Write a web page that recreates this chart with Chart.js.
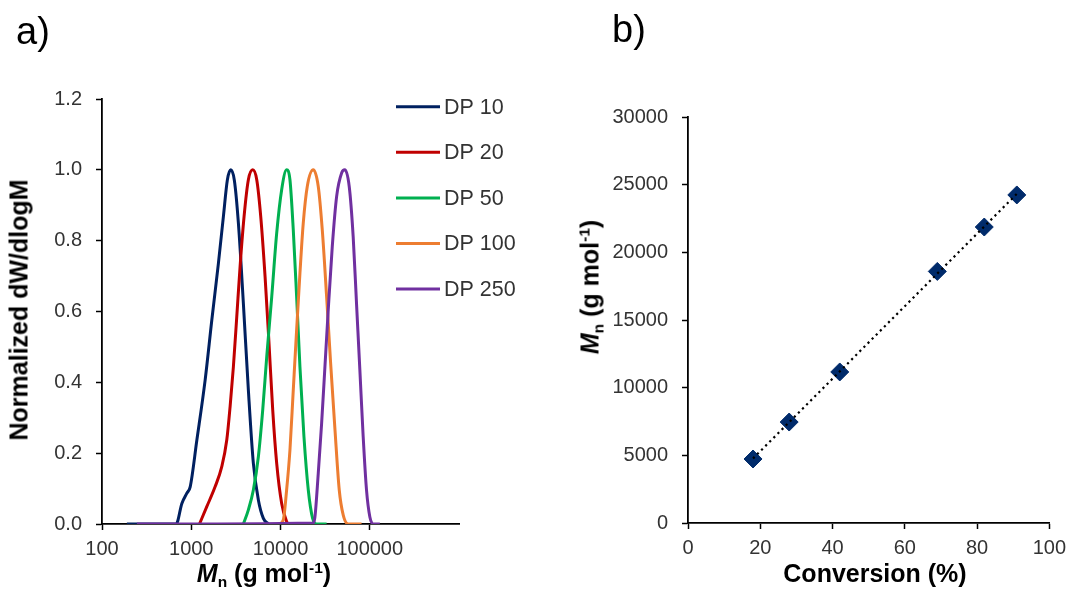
<!DOCTYPE html>
<html><head><meta charset="utf-8">
<script src="https://cdn.jsdelivr.net/npm/chart.js@4.4.1/dist/chart.umd.min.js"></script>
<style>
html,body{margin:0;padding:0;background:#fff;}
#wrap{position:relative;width:1073px;height:595px;overflow:hidden;font-family:"Liberation Sans",Arial,sans-serif;background:#fff;}
.cv{position:absolute;top:0;}
.lbl{position:absolute;white-space:nowrap;color:#000;line-height:1;}
.ttl{font-size:25px;font-weight:bold;transform:translate(-50%,-50%);}
.rot{transform:translate(-50%,-50%) rotate(-90deg);}
.panel{font-size:38px;}
sub,sup{font-size:0.62em;line-height:0;position:relative;vertical-align:baseline;}
sub{top:0.32em;} sup{top:-0.55em;}
</style></head>
<body><div id="wrap">
<canvas id="ca" class="cv" width="540" height="595" style="left:0"></canvas>
<canvas id="cb" class="cv" width="533" height="595" style="left:540px"></canvas>
<div class="lbl panel" style="left:16px;top:12px">a)</div>
<div class="lbl panel" style="left:612px;top:10px">b)</div>
<div class="lbl ttl rot" style="left:19px;top:310px">Normalized dW/dlogM</div>
<div class="lbl ttl" style="left:264px;top:573px"><i>M</i><sub>n</sub> (g mol<sup>-1</sup>)</div>
<div class="lbl ttl" style="left:875px;top:573px">Conversion (%)</div>
<div class="lbl ttl rot" style="left:590px;top:287px"><i>M</i><sub>n</sub> (g mol<sup>-1</sup>)</div>
</div>
<script>
// ---------- Panel a: GPC traces ----------
const seriesLabels = ['DP 10', 'DP 20', 'DP 50', 'DP 100', 'DP 250'];
const seriesColors = ['#002060', '#C00000', '#00B050', '#ED7D31', '#7030A0'];

const dp10M = [190, 678, 785, 893, 973, 1156, 1432, 1700, 2015, 2291, 2541, 2773, 3042, 3373, 3837, 4365, 4966, 5649, 6427, 7311];
const dp10W = [0, 0, 0.058, 0.087, 0.105, 0.237, 0.407, 0.576, 0.736, 0.868, 0.972, 1.0, 0.97, 0.85, 0.623, 0.378, 0.171, 0.068, 0.016, 0];

const dp20M = [1236, 1493, 1849, 2198, 2500, 2723, 2966, 3235, 3525, 3906, 4365, 4887, 5417, 6006, 6714, 7435, 8180, 9065, 10305, 11710, 12220];
const dp20W = [0, 0.049, 0.105, 0.162, 0.237, 0.331, 0.444, 0.585, 0.727, 0.868, 0.972, 1.0, 0.972, 0.868, 0.699, 0.510, 0.322, 0.171, 0.058, 0.007, 0];

const dp50M = [3837, 4365, 4966, 5649, 6322, 7015, 7978, 9065, 10305, 11710, 12760, 13900, 15160, 16510, 18310, 20480, 22910, 25410, 32860];
const dp50W = [0, 0.04, 0.096, 0.19, 0.322, 0.473, 0.642, 0.821, 0.944, 1.0, 0.972, 0.831, 0.642, 0.444, 0.247, 0.096, 0.016, 0, 0];

const dp100M = [9700, 10740, 11710, 12760, 13900, 15160, 16510, 17980, 19950, 23280, 26490, 29370, 32860, 36440, 40780, 45530, 50460, 57360, 80900];
const dp100W = [0, 0.011, 0.096, 0.209, 0.378, 0.548, 0.708, 0.849, 0.953, 1.0, 0.953, 0.831, 0.642, 0.454, 0.266, 0.096, 0.025, 0, 0];

const dp250M = [246, 23280, 24320, 26490, 28890, 31460, 34280, 38020, 42560, 48420, 52600, 58880, 65180, 71070, 77480, 84390, 91980, 100300, 109100, 129800];
const dp250W = [0, 0.003, 0.02, 0.143, 0.284, 0.444, 0.605, 0.783, 0.925, 0.991, 1.0, 0.953, 0.812, 0.623, 0.435, 0.247, 0.096, 0.02, 0, 0];

const xTicksA = [100, 1000, 10000, 100000];

// ---------- Panel b: Mn vs conversion ----------
const conversion = [18, 28, 42, 69, 82, 91];
const mnValues = [4730, 7460, 11160, 18590, 21870, 24240];
const trendX = [18, 91];
const trendY = [4770, 24320];

const FONT = '"Liberation Sans", Arial, sans-serif';
const TICK_COLOR = '#333333';
const AXIS_COLOR = '#000000';

Chart.defaults.font.family = FONT;
Chart.defaults.animation = false;

function pts(xs, ys) { return xs.map((x, i) => ({ x: x, y: ys[i] })); }

const curveX = [dp10M, dp20M, dp50M, dp100M, dp250M];
const curveY = [dp10W, dp20W, dp50W, dp100W, dp250W];

const datasetsA = seriesLabels.map((lab, i) => ({
  label: lab,
  data: pts(curveX[i], curveY[i]),
  borderColor: seriesColors[i],
  backgroundColor: seriesColors[i],
  borderWidth: 3,
  pointRadius: 0,
  cubicInterpolationMode: 'monotone',
  fill: false,
  order: seriesLabels.length - i
}));

const legendPlugin = {
  id: 'excelLegend',
  afterDatasetsDraw(chart) {
    const ctx = chart.ctx;
    ctx.save();
    ctx.font = '21.5px ' + FONT;
    ctx.textBaseline = 'middle';
    ctx.fillStyle = TICK_COLOR;
    chart.data.datasets.forEach((ds, i) => {
      const y = 106.7 + i * 45.6;
      ctx.strokeStyle = ds.borderColor;
      ctx.lineWidth = 3;
      ctx.beginPath(); ctx.moveTo(396, y); ctx.lineTo(440, y); ctx.stroke();
      ctx.fillText(ds.label, 444, y + 1);
    });
    ctx.restore();
  }
};

function axisStyle(extra) {
  return Object.assign({
    grid: { display: true, drawOnChartArea: false, drawTicks: true, tickLength: 6, color: AXIS_COLOR, tickWidth: 1.5 },
    border: { display: true, color: AXIS_COLOR, width: 1.8 }
  }, extra);
}

new Chart(document.getElementById('ca'), {
  type: 'line',
  data: { datasets: datasetsA },
  plugins: [legendPlugin],
  options: {
    responsive: false,
    devicePixelRatio: 1,
    layout: { padding: { left: 0, top: 99, right: 81, bottom: 0 } },
    plugins: { legend: { display: false }, tooltip: { enabled: false } },
    scales: {
      x: axisStyle({
        type: 'logarithmic', min: 100, max: 1000000,
        afterBuildTicks(s) { s.ticks = xTicksA.map(v => ({ value: v })); },
        afterFit(s) { s.height = 71; },
        ticks: { autoSkip: false, maxRotation: 0, padding: 7, color: TICK_COLOR, font: { size: 20 }, callback: v => String(v) }
      }),
      y: axisStyle({
        type: 'linear', min: 0, max: 1.2,
        afterFit(s) { s.width = 102; },
        ticks: { stepSize: 0.2, padding: 14, color: TICK_COLOR, font: { size: 20 }, callback: v => v.toFixed(1) }
      })
    }
  }
});

new Chart(document.getElementById('cb'), {
  type: 'scatter',
  data: {
    datasets: [
      {
        label: 'Trend',
        type: 'line',
        data: pts(trendX, trendY),
        borderColor: '#000000',
        borderWidth: 2.2,
        borderDash: [2.2, 3.6],
        pointRadius: 0,
        fill: false,
        order: 0
      },
      {
        label: 'Mn',
        data: pts(conversion, mnValues),
        pointStyle: 'rectRot',
        pointRadius: 9,
        backgroundColor: '#002B6B',
        borderColor: '#002B6B',
        borderWidth: 1,
        order: 1
      }
    ]
  },
  options: {
    responsive: false,
    devicePixelRatio: 1,
    layout: { padding: { left: 0, top: 117, right: 20, bottom: 0 } },
    plugins: { legend: { display: false }, tooltip: { enabled: false } },
    scales: {
      x: axisStyle({
        type: 'linear', min: 0, max: 100,
        afterFit(s) { s.height = 72; },
        ticks: { stepSize: 20, padding: 7, maxRotation: 0, color: TICK_COLOR, font: { size: 20 } }
      }),
      y: axisStyle({
        type: 'linear', min: 0, max: 30000,
        afterFit(s) { s.width = 148; },
        ticks: { stepSize: 5000, padding: 14, color: TICK_COLOR, font: { size: 20 }, callback: v => String(v) }
      })
    }
  }
});
</script>
</body></html>
